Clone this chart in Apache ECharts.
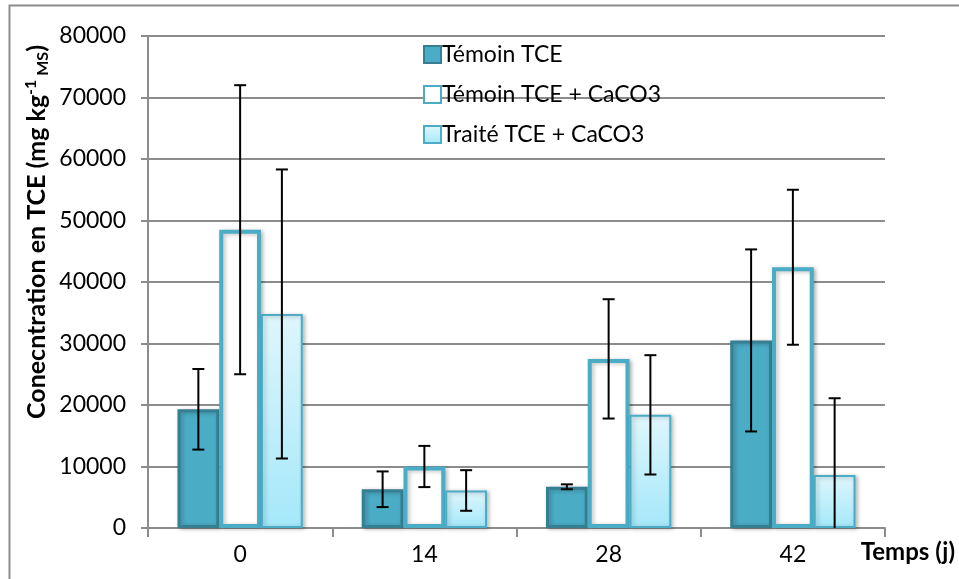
<!DOCTYPE html>
<html>
<head>
<meta charset="utf-8">
<script src="https://cdn.jsdelivr.net/npm/echarts@6/dist/echarts.min.js"></script>
<style>
  html, body { margin: 0; padding: 0; background: #fff; }
  #main { width: 959px; height: 579px; }
</style>
</head>
<body>
<div id="main"></div>
<script>
    // data
    var categories = ['0', '14', '28', '42'];
    var seriesNames = ['Témoin TCE', 'Témoin TCE + CaCO3', 'Traité TCE + CaCO3'];
    var temoin = [19300, 6300, 6700, 30500];
    var temoinErr = [6550, 2900, 400, 14800];
    var temoinCaco3 = [48500, 10000, 27500, 42400];
    var temoinCaco3Err = [23500, 3350, 9700, 12600];
    var traite = [34800, 6100, 18400, 8600];
    var traiteErr = [23500, 3300, 9700, 12500];
    var yTicks = [0, 10000, 20000, 30000, 40000, 50000, 60000, 70000, 80000];

    var chartDom = document.getElementById('main');
    var myChart = echarts.init(chartDom);
    var FONT = 'Lato';
    var GAP = 0.32; // barCategoryGap

    // error bar data: [category, value, err, seriesIdx]
    var errData = [];
    [[temoin, temoinErr], [temoinCaco3, temoinCaco3Err], [traite, traiteErr]].forEach(function (p, s) {
        p[0].forEach(function (v, i) {
            errData.push([i, v, p[1][i], s]);
        });
    });

    function renderErr(params, api) {
        var idx = api.value(0), v = api.value(1), e = api.value(2), s = api.value(3);
        var band = api.size([1, 0])[0];
        var barW = band * (1 - GAP) / 3;
        var c = api.coord([idx, v]);
        var x = c[0] + (s - 1) * barW;
        var lowV = v - e;
        var hi = api.coord([idx, v + e])[1];
        var lo = api.coord([idx, Math.max(lowV, 0)])[1];
        var style = { stroke: '#000', lineWidth: 2 };
        var children = [
            { type: 'line', shape: { x1: x, y1: hi, x2: x, y2: lo }, style: style },
            { type: 'line', shape: { x1: x - 6, y1: hi, x2: x + 6, y2: hi }, style: style }
        ];
        if (lowV > 0) {
            children.push({ type: 'line', shape: { x1: x - 6, y1: lo, x2: x + 6, y2: lo }, style: style });
        }
        return { type: 'group', children: children };
    }

    var shadow = { shadowBlur: 4, shadowColor: 'rgba(0,0,0,0.25)', shadowOffsetX: 2, shadowOffsetY: 1 };

    var option = {
        animation: false,
        textStyle: { fontFamily: FONT },
        graphic: [
            {
                type: 'rect',
                shape: { x: 9.5, y: 5.5, width: 1000, height: 700 },
                style: { fill: 'none', stroke: '#8c8c8c', lineWidth: 2 },
                silent: true
            },
            {
                type: 'text',
                x: 37,
                y: 232,
                rotation: Math.PI / 2,
                style: {
                    text: '{a|Conecntration en TCE (mg kg}{s|-1}{m| MS}{a|)}',
                    align: 'center',
                    verticalAlign: 'middle',
                    rich: {
                        a: { fontFamily: FONT, fontWeight: 'bold', fontSize: 25, fill: '#000' },
                        s: { fontFamily: FONT, fontWeight: 'bold', fontSize: 16, fill: '#000', padding: [0, 0, 12, 0] },
                        m: { fontFamily: FONT, fontWeight: 'bold', fontSize: 16, fill: '#000', padding: [12, 0, 0, 0] }
                    }
                }
            }
        ],
        legend: {
            orient: 'vertical',
            left: 418,
            top: 38,
            itemGap: 17,
            itemWidth: 17,
            itemHeight: 17,
            icon: 'rect',
            textStyle: { fontFamily: FONT, fontSize: 23, color: '#000', padding: [0, 0, 0, -4] },
            data: seriesNames
        },
        grid: {
            left: 148,
            right: 74,
            top: 36,
            bottom: 51
        },
        xAxis: {
            type: 'category',
            data: categories,
            name: 'Temps (j)',
            nameLocation: 'end',
            nameGap: 0,
            nameTextStyle: {
                fontFamily: FONT, fontWeight: 'bold', fontSize: 24, color: '#000',
                align: 'right', verticalAlign: 'top', padding: [12, -70, 0, 0]
            },
            axisLine: { lineStyle: { color: '#8c8c8c', width: 2 } },
            axisTick: { show: true, inside: false, length: 9, lineStyle: { color: '#8c8c8c', width: 2 } },
            axisLabel: { fontFamily: FONT, fontSize: 23, color: '#000', margin: 15 },
            splitLine: { show: false }
        },
        yAxis: {
            type: 'value',
            min: yTicks[0],
            max: yTicks[yTicks.length - 1],
            interval: 10000,
            axisLine: { show: true, lineStyle: { color: '#8c8c8c', width: 2 } },
            axisTick: { show: true, length: 7, lineStyle: { color: '#8c8c8c', width: 2 } },
            axisLabel: {
                fontFamily: FONT, fontSize: 23, color: '#000', margin: 22,
                formatter: function (v) { return String(v); }
            },
            splitLine: { show: true, lineStyle: { color: '#8c8c8c', width: 2 } }
        },
        series: [
            {
                name: seriesNames[0],
                type: 'bar',
                barGap: '0%',
                barCategoryGap: '32%',
                data: temoin,
                itemStyle: Object.assign({ color: '#4BACC6', borderColor: '#367E91', borderWidth: 3 }, shadow)
            },
            {
                name: seriesNames[1],
                type: 'bar',
                barGap: '0%',
                barCategoryGap: '32%',
                data: temoinCaco3,
                itemStyle: Object.assign({ color: '#ffffff', borderColor: '#4BACC6', borderWidth: 4 }, shadow)
            },
            {
                name: seriesNames[2],
                type: 'bar',
                barGap: '0%',
                barCategoryGap: '32%',
                data: traite,
                itemStyle: Object.assign({
                    color: new echarts.graphic.LinearGradient(0, 0, 0, 1, [
                        { offset: 0, color: '#DFF6FC' },
                        { offset: 1, color: '#A4E8FA' }
                    ]),
                    borderColor: '#4BACC6',
                    borderWidth: 2
                }, shadow)
            },
            {
                type: 'custom',
                renderItem: renderErr,
                data: errData,
                encode: { x: 0, y: 1 },
                z: 10,
                silent: true
            }
        ]
    };

    myChart.setOption(option);
</script>
</body>
</html>
